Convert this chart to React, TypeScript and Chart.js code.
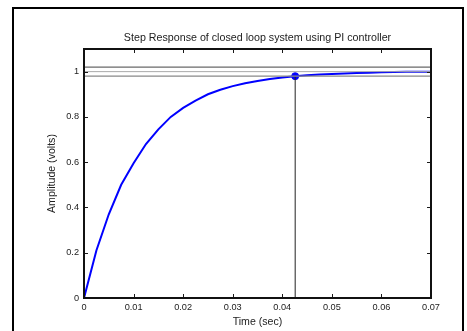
import React, { useEffect, useRef } from "react";
import { Chart, registerables } from "chart.js";

Chart.register(...registerables);

const timeSec = [
  0, 0.0025, 0.005, 0.0075, 0.01, 0.0125, 0.015, 0.0175, 0.02, 0.0225, 0.025,
  0.0275, 0.03, 0.0325, 0.035, 0.0375, 0.04, 0.0425, 0.045, 0.0475, 0.05,
  0.0525, 0.055, 0.0575, 0.06, 0.0625, 0.065, 0.0675, 0.07,
];
const amplitude = [
  0, 0.21, 0.37, 0.5, 0.595, 0.68, 0.745, 0.8, 0.84, 0.872, 0.9, 0.92, 0.936,
  0.949, 0.959, 0.967, 0.974, 0.98, 0.984, 0.987, 0.99, 0.992, 0.994, 0.995,
  0.997, 0.998, 0.999, 1.0, 1.0,
];
const settlingTime = 0.0426;
const settlingValue = 0.98;
const bandUpper = 1.02;
const bandLower = 0.98;
const finalValue = 1.0;
const xTickValues = [0, 0.01, 0.02, 0.03, 0.04, 0.05, 0.06, 0.07];
const xTickLabels = ["0", "0.01", "0.02", "0.03", "0.04", "0.05", "0.06", "0.07"];
const yTickValues = [0, 0.2, 0.4, 0.6, 0.8, 1];
const yTickLabels = ["0", "0.2", "0.4", "0.6", "0.8", "1"];
const titleText = "Step Response of closed loop system using PI controller";
const xTitle = "Time (sec)";
const yTitle = "Amplitude (volts)";

const FONT = "'Liberation Sans', Arial, Helvetica, sans-serif";
const TEXT = "#222";

const boxPlugin = {
  id: "matlabBox",
  afterDatasetsDraw(chart: any) {
    const { ctx, chartArea } = chart;
    const { left, right, top, bottom } = chartArea;
    const xs = chart.scales.x;
    const ys = chart.scales.y;
    ctx.save();
    ctx.strokeStyle = "#1a1a1a";
    ctx.lineWidth = 1;
    const tl = 4;
    ctx.beginPath();
    xTickValues.forEach((v) => {
      const px = Math.round(xs.getPixelForValue(v)) + 0.5;
      ctx.moveTo(px, bottom);
      ctx.lineTo(px, bottom - tl);
      ctx.moveTo(px, top);
      ctx.lineTo(px, top + tl);
    });
    yTickValues.forEach((v) => {
      const py = Math.round(ys.getPixelForValue(v)) + 0.5;
      ctx.moveTo(left, py);
      ctx.lineTo(left + tl, py);
      ctx.moveTo(right, py);
      ctx.lineTo(right - tl, py);
    });
    ctx.stroke();
    ctx.lineWidth = 2;
    ctx.strokeStyle = "#111";
    ctx.strokeRect(left, top, right - left, bottom - top);
    // title, centred over the plot area
    ctx.fillStyle = TEXT;
    ctx.font = `10.7px ${FONT}`;
    ctx.textAlign = "center";
    ctx.textBaseline = "middle";
    ctx.fillText(titleText, (left + right) / 2, top - 11);
    ctx.restore();
  },
};

export default function App() {
  const ref = useRef<HTMLCanvasElement | null>(null);

  useEffect(() => {
    if (!ref.current) return;
    const chart = new Chart(ref.current, {
      type: "scatter",
      data: {
        datasets: [
          {
            label: "upper",
            data: [
              { x: 0, y: bandUpper },
              { x: 0.07, y: bandUpper },
            ],
            showLine: true,
            borderColor: "#444",
            borderWidth: 1,
            pointRadius: 0,
          },
          {
            label: "final",
            data: [
              { x: 0, y: finalValue },
              { x: 0.07, y: finalValue },
            ],
            showLine: true,
            borderColor: "#aaa",
            borderWidth: 1,
            pointRadius: 0,
          },
          {
            label: "lower",
            data: [
              { x: 0, y: bandLower },
              { x: 0.07, y: bandLower },
            ],
            showLine: true,
            borderColor: "#888",
            borderWidth: 1.2,
            pointRadius: 0,
          },
          {
            label: "settle",
            data: [
              { x: settlingTime, y: 0 },
              { x: settlingTime, y: settlingValue },
            ],
            showLine: true,
            borderColor: "#222",
            borderWidth: 1,
            pointRadius: 0,
          },
          {
            label: "response",
            data: timeSec.map((t, i) => ({ x: t, y: amplitude[i] })),
            showLine: true,
            borderColor: "#0000ff",
            borderWidth: 2,
            pointRadius: 0,
            tension: 0,
          },
          {
            label: "marker",
            data: [{ x: settlingTime, y: settlingValue }],
            showLine: false,
            backgroundColor: "#0000ff",
            borderColor: "#0000ff",
            pointRadius: 3.5,
          },
        ],
      },
      options: {
        responsive: false,
        animation: false,
        devicePixelRatio: 1,
        layout: { padding: { left: 0, right: 36, top: 49, bottom: 0 } },
        plugins: {
          legend: { display: false },
          tooltip: { enabled: false },
          title: { display: false },
        },
        scales: {
          x: {
            type: "linear",
            min: 0,
            max: 0.07,
            grid: { display: false, drawTicks: false },
            border: { display: false },
            afterBuildTicks: (s: any) => {
              s.ticks = xTickValues.map((v) => ({ value: v }));
            },
            afterFit: (s: any) => {
              s.height = 33;
            },
            ticks: {
              autoSkip: false,
              maxRotation: 0,
              padding: 4,
              color: TEXT,
              font: { family: FONT, size: 9.2 },
              callback: (v: any) => {
                const i = xTickValues.findIndex((t) => Math.abs(t - v) < 1e-9);
                return i >= 0 ? xTickLabels[i] : "";
              },
            },
            title: {
              display: true,
              text: xTitle,
              color: TEXT,
              font: { family: FONT, size: 10.6 },
              padding: { top: 0, bottom: 3 },
            },
          },
          y: {
            type: "linear",
            min: 0,
            max: 1.1,
            grid: { display: false, drawTicks: false },
            border: { display: false },
            afterBuildTicks: (s: any) => {
              s.ticks = yTickValues.map((v) => ({ value: v }));
            },
            afterFit: (s: any) => {
              s.width = 84;
            },
            ticks: {
              autoSkip: false,
              padding: 5,
              color: TEXT,
              font: { family: FONT, size: 9.2 },
              callback: (v: any) => {
                const i = yTickValues.findIndex((t) => Math.abs(t - v) < 1e-9);
                return i >= 0 ? yTickLabels[i] : "";
              },
            },
            title: {
              display: true,
              text: yTitle,
              color: TEXT,
              font: { family: FONT, size: 10.6 },
              padding: { top: 46, bottom: 0 },
            },
          },
        },
      },
      plugins: [boxPlugin],
    });
    return () => chart.destroy();
  }, []);

  return (
    <div
      style={{
        position: "fixed",
        left: 0,
        top: 0,
        width: 467,
        height: 331,
        overflow: "hidden",
        background: "#fff",
      }}
    >
      <div
        style={{
          position: "absolute",
          left: 12,
          top: 7,
          width: 452,
          height: 400,
          boxSizing: "border-box",
          borderLeft: "2px solid #000",
          borderTop: "2px solid #000",
          borderRight: "2px solid #000",
        }}
      />
      <canvas
        ref={ref}
        width={467}
        height={331}
        style={{ position: "absolute", left: 0, top: 0, width: 467, height: 331 }}
      />
    </div>
  );
}
